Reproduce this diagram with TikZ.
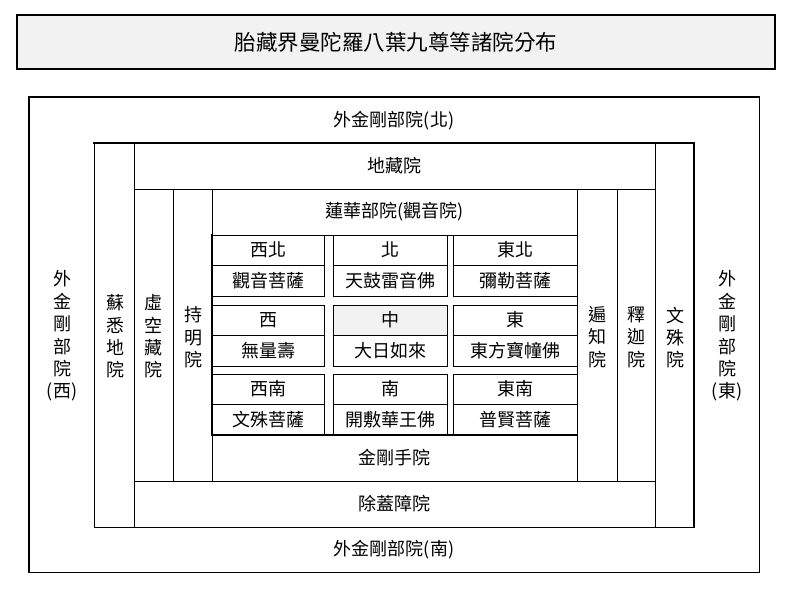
\documentclass[tikz,border=0pt]{standalone}
\usepackage{fontspec}
\setmainfont{Noto Sans CJK TC}
\definecolor{boxgray}{HTML}{F2F2F2}
\tikzset{
  region/.style n args={2}{draw, line width=0.8pt, inner sep=0pt, outer sep=0pt,
    minimum width=#1pt, minimum height=#2pt},
  lab/.style={inner sep=0pt, font=\fontsize{18}{22.4}\selectfont, align=center},
  thickline/.style={line width=1.8pt, line cap=rect},
}
\begin{document}
\begin{tikzpicture}[x=1pt,y=-1pt]
\useasboundingbox (0,0) rectangle (789,597);
% title
\node[region={758}{54}, line width=1.6pt, fill=boxgray, font=\fontsize{21.5}{24}\selectfont] (title) at (396,42) {胎藏界曼陀羅八葉九尊等諸院分布};
% outer
\node[region={730}{475}] (outer) at (394,334.5) {};
\node[region={600}{384}] (mid) at (394,335) {};
\node[region={40}{384}] (susid) at (114,335) {};
\node[region={39}{384}] (monju) at (674.5,335) {};
\node[region={521}{46}, lab] (jizo) at (394.5,166) {地藏院};
\node[region={521}{46}, lab] (jogai) at (394.5,504) {除蓋障院};
\node[region={39}{292}] (kokuzo) at (153.5,335) {};
\node[region={39}{292}] (jimyo) at (192.5,335) {};
\node[region={40}{292}] (henchi) at (597,335) {};
\node[region={38}{292}] (shaka) at (636,335) {};
\node[region={365}{46}, lab] (renge) at (394.5,212) {蓮華部院(觀音院)};
\node[region={365}{46}, lab] (kongo) at (394.5,458) {金剛手院};
% outer labels
\node[lab] (north) at (394,121) {外金剛部院(北)};
\node[lab] (south) at (394,550) {外金剛部院(南)};
\node[lab] (west) at (62,336) {外\\金\\剛\\部\\院\\(西)};
\node[lab] (east) at (727,336) {外\\金\\剛\\部\\院\\(東)};
\node[lab] (tsusid) at (115,336.5) {蘇\\悉\\地\\院};
\node[lab] (tkokuzo) at (153.5,336.5) {虛\\空\\藏\\院};
\node[lab] (tjimyo) at (193,337.5) {持\\明\\院};
\node[lab] (thenchi) at (597,337) {遍\\知\\院};
\node[lab] (tshaka) at (636,337) {釋\\迦\\院};
\node[lab] (tmonju) at (675,337.5) {文\\殊\\院};
% grid cells: columns
% col1 212-324 (c 268, w 112); col2 333-447 (c 390, w 114); col3 453-577 (c 515, w 124)
% block1
\node[region={112}{30}, lab] (nwd) at (268,250) {西北};
\node[region={112}{31}, lab] (nwb) at (268,280.5) {觀音菩薩};
\node[region={114}{30}, lab] (nd) at (390,250) {北};
\node[region={114}{31}, lab] (nb) at (390,280.5) {天鼓雷音佛};
\node[region={124}{30}, lab] (ned) at (515,250) {東北};
\node[region={124}{31}, lab] (neb) at (515,280.5) {彌勒菩薩};
% block2
\node[region={112}{30}, lab] (wd) at (268,320) {西};
\node[region={112}{31}, lab] (wb) at (268,350.5) {無量壽};
\node[region={114}{30}, lab, fill=boxgray] (cd) at (390,320) {中};
\node[region={114}{31}, lab] (cb) at (390,350.5) {大日如來};
\node[region={124}{30}, lab] (ed) at (515,320) {東};
\node[region={124}{31}, lab] (eb) at (515,350.5) {東方寶幢佛};
% block3
\node[region={112}{30}, lab] (swd) at (268,389) {西南};
\node[region={112}{31}, lab] (swb) at (268,419.5) {文殊菩薩};
\node[region={114}{30}, lab] (sd) at (390,389) {南};
\node[region={114}{31}, lab] (sb) at (390,419.5) {開敷華王佛};
\node[region={124}{30}, lab] (sed) at (515,389) {東南};
\node[region={124}{31}, lab] (seb) at (515,419.5) {普賢菩薩};
% thick edges
\draw[thickline] (outer.south west) -- (outer.north west) -- (outer.north east);
\draw[thickline] (mid.north west) -- (mid.north east) -- (mid.south east);
\draw[thickline] (nwd.north west) -- (swb.south west) -- (seb.south east);
\end{tikzpicture}
\end{document}
